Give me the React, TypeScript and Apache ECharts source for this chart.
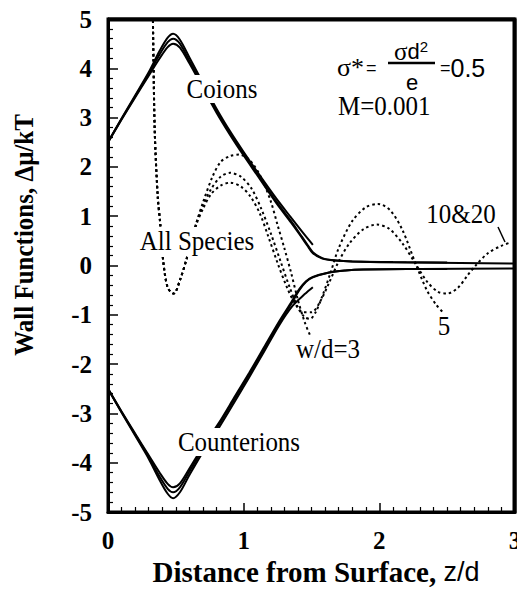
import React, { useEffect, useRef } from "react";
import * as echarts from "echarts";

// Coions (solid) for w/d = 3, 5, 10&20
const coions3: number[][] = [[0,2.5],[0.1,2.98],[0.2,3.45],[0.3,3.92],[0.38,4.35],[0.44,4.62],[0.48,4.7],[0.53,4.58],[0.6,4.22],[0.7,3.7],[0.8,3.18],[0.9,2.72],[1.0,2.3],[1.1,1.9],[1.24,1.36],[1.35,0.97],[1.45,0.62],[1.51,0.42]];
const coions5: number[][] = [[0,2.5],[0.1,2.97],[0.2,3.43],[0.3,3.88],[0.38,4.28],[0.44,4.53],[0.48,4.6],[0.53,4.5],[0.6,4.15],[0.7,3.65],[0.8,3.14],[0.9,2.68],[1.0,2.26],[1.1,1.86],[1.24,1.3],[1.35,0.9],[1.41,0.66],[1.47,0.42],[1.51,0.27],[1.58,0.15],[1.68,0.1],[1.8,0.08],[2.1,0.07],[2.5,0.06]];
const coions10: number[][] = [[0,2.5],[0.1,2.96],[0.2,3.41],[0.3,3.85],[0.38,4.2],[0.44,4.43],[0.48,4.5],[0.53,4.42],[0.6,4.1],[0.7,3.6],[0.8,3.1],[0.9,2.65],[1.0,2.23],[1.1,1.83],[1.24,1.27],[1.35,0.87],[1.41,0.64],[1.47,0.4],[1.51,0.25],[1.58,0.14],[1.68,0.1],[1.8,0.08],[2.2,0.06],[2.6,0.05],[3.0,0.04]];

// Counterions (solid)
const counter3: number[][] = [[0,-2.5],[0.1,-2.98],[0.2,-3.45],[0.3,-3.92],[0.38,-4.35],[0.44,-4.63],[0.48,-4.72],[0.53,-4.6],[0.6,-4.25],[0.7,-3.78],[0.82,-3.28],[0.93,-2.78],[1.04,-2.27],[1.15,-1.75],[1.26,-1.22],[1.36,-0.82],[1.45,-0.58],[1.51,-0.44]];
const counter5: number[][] = [[0,-2.5],[0.1,-2.97],[0.2,-3.43],[0.3,-3.88],[0.38,-4.28],[0.44,-4.53],[0.48,-4.6],[0.53,-4.5],[0.6,-4.18],[0.7,-3.72],[0.82,-3.22],[0.93,-2.72],[1.04,-2.22],[1.15,-1.7],[1.26,-1.18],[1.35,-0.78],[1.41,-0.5],[1.46,-0.33],[1.51,-0.24],[1.63,-0.14],[1.75,-0.1],[1.88,-0.08],[2.2,-0.07],[2.5,-0.07]];
const counter10: number[][] = [[0,-2.5],[0.1,-2.96],[0.2,-3.41],[0.3,-3.85],[0.38,-4.2],[0.44,-4.43],[0.48,-4.5],[0.53,-4.42],[0.6,-4.12],[0.7,-3.67],[0.82,-3.18],[0.93,-2.68],[1.04,-2.18],[1.15,-1.66],[1.26,-1.14],[1.35,-0.75],[1.41,-0.48],[1.46,-0.32],[1.51,-0.23],[1.63,-0.14],[1.75,-0.1],[1.88,-0.08],[2.3,-0.07],[3.0,-0.06]];

// All species (dotted)
const all3: number[][] = [[0.33,5.3],[0.335,4.2],[0.345,2.68],[0.367,1.38],[0.385,0.85],[0.405,0.14],[0.44,-0.45],[0.485,-0.57],[0.53,-0.3],[0.58,0.14],[0.65,0.85],[0.7,1.28],[0.77,1.8],[0.83,2.1],[0.9,2.22],[0.97,2.25],[1.05,2.12],[1.13,1.78],[1.2,1.3],[1.25,0.82],[1.3,0.35],[1.35,-0.15],[1.4,-0.7],[1.45,-1.15],[1.49,-1.42]];
const all5: number[][] = [[0.33,5.3],[0.335,4.2],[0.345,2.68],[0.367,1.38],[0.385,0.85],[0.405,0.14],[0.44,-0.45],[0.485,-0.57],[0.53,-0.3],[0.58,0.14],[0.65,0.85],[0.7,1.22],[0.76,1.55],[0.83,1.8],[0.9,1.88],[0.98,1.8],[1.06,1.55],[1.13,1.15],[1.2,0.65],[1.27,0.1],[1.34,-0.45],[1.4,-0.85],[1.45,-1.05],[1.49,-1.08],[1.53,-0.95],[1.58,-0.62],[1.64,-0.15],[1.7,0.35],[1.8,0.9],[1.9,1.18],[1.99,1.25],[2.08,1.12],[2.17,0.72],[2.27,0.02],[2.35,-0.5],[2.42,-0.8],[2.47,-0.95]];
const all10: number[][] = [[0.33,5.3],[0.335,4.2],[0.345,2.68],[0.367,1.38],[0.385,0.85],[0.405,0.14],[0.44,-0.45],[0.485,-0.57],[0.53,-0.3],[0.58,0.14],[0.65,0.82],[0.7,1.15],[0.76,1.45],[0.83,1.62],[0.9,1.68],[0.98,1.6],[1.05,1.4],[1.12,1.05],[1.18,0.6],[1.25,0.05],[1.32,-0.45],[1.38,-0.78],[1.44,-0.95],[1.5,-0.95],[1.56,-0.75],[1.63,-0.35],[1.7,0.08],[1.78,0.45],[1.88,0.73],[1.98,0.83],[2.07,0.75],[2.17,0.45],[2.27,0.02],[2.35,-0.32],[2.43,-0.53],[2.5,-0.57],[2.58,-0.45],[2.65,-0.2],[2.71,0.0],[2.8,0.25],[2.9,0.4],[2.97,0.47]];

// plot frame (top and right edges)
const frame: number[][] = [[0, 5], [3, 5], [3, -5]];

const xTickLabels = ["0", "1", "2", "3"];
const yTickLabels = ["-5", "-4", "-3", "-2", "-1", "0", "1", "2", "3", "4", "5"];

const SERIF = "Liberation Serif, Times New Roman, serif";
const SANS = "Liberation Sans, Arial, sans-serif";

export default function App() {
  const ref = useRef<HTMLDivElement>(null);
  useEffect(() => {
    if (!ref.current) return;
    const chart = echarts.init(ref.current, null, { renderer: "svg" });
    const solid = (data: number[][]) => ({
      type: "line", data, showSymbol: false, symbol: "none", smooth: 0.3, clip: true,
      lineStyle: { color: "#000", width: 2 }, z: 3,
    });
    const dotted = (data: number[][]) => ({
      type: "line", data, showSymbol: false, symbol: "none", smooth: 0.3, clip: true,
      lineStyle: { color: "#000", width: 2, type: [2.5, 3] }, z: 2,
    });
    const label = (text: string, x: number, y: number, bg = true) => ({
      type: "text", x, y, z: 100, scaleY: 1.12,
      style: {
        text, font: `25px ${SERIF}`, fill: "#000", textAlign: "center", textVerticalAlign: "middle",
        backgroundColor: bg ? "#fff" : undefined, padding: bg ? [0, 1] : 0,
      },
    });
    chart.setOption({
      animation: false,
      grid: { left: 108, top: 19, width: 407, height: 493, show: true, borderColor: "#000", borderWidth: 3, outerBoundsMode: "none" },
      xAxis: {
        type: "value", min: 0, max: 3, interval: 1, position: "bottom",
        axisLine: { show: true, onZero: false, lineStyle: { color: "#000", width: 3 } },
        axisTick: { show: true, inside: true, length: 9, lineStyle: { color: "#000", width: 1.5 } },
        minorTick: { show: true, splitNumber: 10, length: 5, lineStyle: { color: "#000", width: 1.2 } },
        splitLine: { show: false },
        axisLabel: { color: "#000", margin: 16, fontFamily: SERIF, fontWeight: "bold", fontSize: 25, formatter: (v: number) => xTickLabels[Math.round(v)] },
      },
      yAxis: {
        type: "value", min: -5, max: 5, interval: 1, position: "left",
        axisLine: { show: true, onZero: false, lineStyle: { color: "#000", width: 3 } },
        axisTick: { show: true, inside: true, length: 10, lineStyle: { color: "#000", width: 1.5 } },
        minorTick: { show: true, splitNumber: 5, length: 5, lineStyle: { color: "#000", width: 1.2 } },
        splitLine: { show: false },
        axisLabel: { color: "#000", margin: 16, fontFamily: SERIF, fontWeight: "bold", fontSize: 25, formatter: (v: number) => yTickLabels[Math.round(v) + 5] },
      },
      series: [
        {
          type: "line", data: frame, showSymbol: false, symbol: "none", clip: false, z: 10,
          lineStyle: { color: "#000", width: 3 },
        },
        solid(coions3), solid(coions5), solid(coions10),
        solid(counter3), solid(counter5), solid(counter10),
        dotted(all3), dotted(all5), dotted(all10),
      ],
      graphic: [
        {
          type: "polyline", z: 90,
          shape: { points: [[108, 20], [514, 20], [514, 512]] },
          style: { fill: "none", stroke: "#000", lineWidth: 3 },
        },
        {
          type: "text", x: 24, y: 235, rotation: Math.PI / 2, scaleY: 1.1,
          style: { text: "Wall Functions, Δμ/kT", font: `bold 25px ${SERIF}`, fill: "#000", textAlign: "center", textVerticalAlign: "middle" },
        },
        {
          type: "text", x: 316, y: 572,
          style: {
            text: "{a|Distance from Surface, }{b|z/d}", fill: "#000", textAlign: "center", textVerticalAlign: "middle",
            rich: {
              a: { font: `bold 29px ${SERIF}`, fill: "#000" },
              b: { font: `27px ${SANS}`, fill: "#000" },
            },
          },
        },
        label("Coions", 222, 89),
        label("All Species", 197, 241),
        label("Counterions", 239, 442),
        label("w/d=3", 328, 349, false),
        label("5", 444, 326, false),
        label("10&20", 461, 214, false),
        { type: "line", z: 100, shape: { x1: 498, y1: 227, x2: 505, y2: 242 }, style: { stroke: "#000", lineWidth: 1.5 } },
        // formula
        { type: "text", x: 337, y: 67, z: 100, style: { text: "σ*", font: `26px ${SERIF}`, fill: "#000", textAlign: "left", textVerticalAlign: "middle" } },
        { type: "text", x: 366, y: 68, z: 100, style: { text: "=", font: `18px ${SANS}`, fill: "#000", textAlign: "left", textVerticalAlign: "middle" } },
        {
          type: "text", x: 411, y: 51, z: 100,
          style: {
            text: "{s|σ}{d|d}{p|2}", fill: "#000", textAlign: "center", textVerticalAlign: "middle",
            rich: {
              s: { font: `25px ${SERIF}`, fill: "#000" },
              d: { font: `22px ${SANS}`, fill: "#000" },
              p: { font: `15px ${SANS}`, fill: "#000", verticalAlign: "top", padding: [0, 0, 10, 0] },
            },
          },
        },
        { type: "line", z: 100, shape: { x1: 388, y1: 63, x2: 435, y2: 63 }, style: { stroke: "#000", lineWidth: 2.5 } },
        { type: "text", x: 412, y: 82, z: 100, style: { text: "e", font: `22px ${SANS}`, fill: "#000", textAlign: "center", textVerticalAlign: "middle" } },
        { type: "text", x: 440, y: 68, z: 100, style: { text: "{e|=}{v|0.5}", fill: "#000", textAlign: "left", textVerticalAlign: "middle", rich: { e: { font: `18px ${SANS}`, fill: "#000" }, v: { font: `25px ${SANS}`, fill: "#000" } } } },
        { type: "text", x: 338, y: 106, z: 100, scaleY: 1.1, style: { text: "M=0.001", font: `25px ${SERIF}`, fill: "#000", textAlign: "left", textVerticalAlign: "middle" } },
      ],
    });
    return () => chart.dispose();
  }, []);
  return <div ref={ref} style={{ width: 517, height: 589, position: "absolute", left: 0, top: 0, background: "#fff" }} />;
}
